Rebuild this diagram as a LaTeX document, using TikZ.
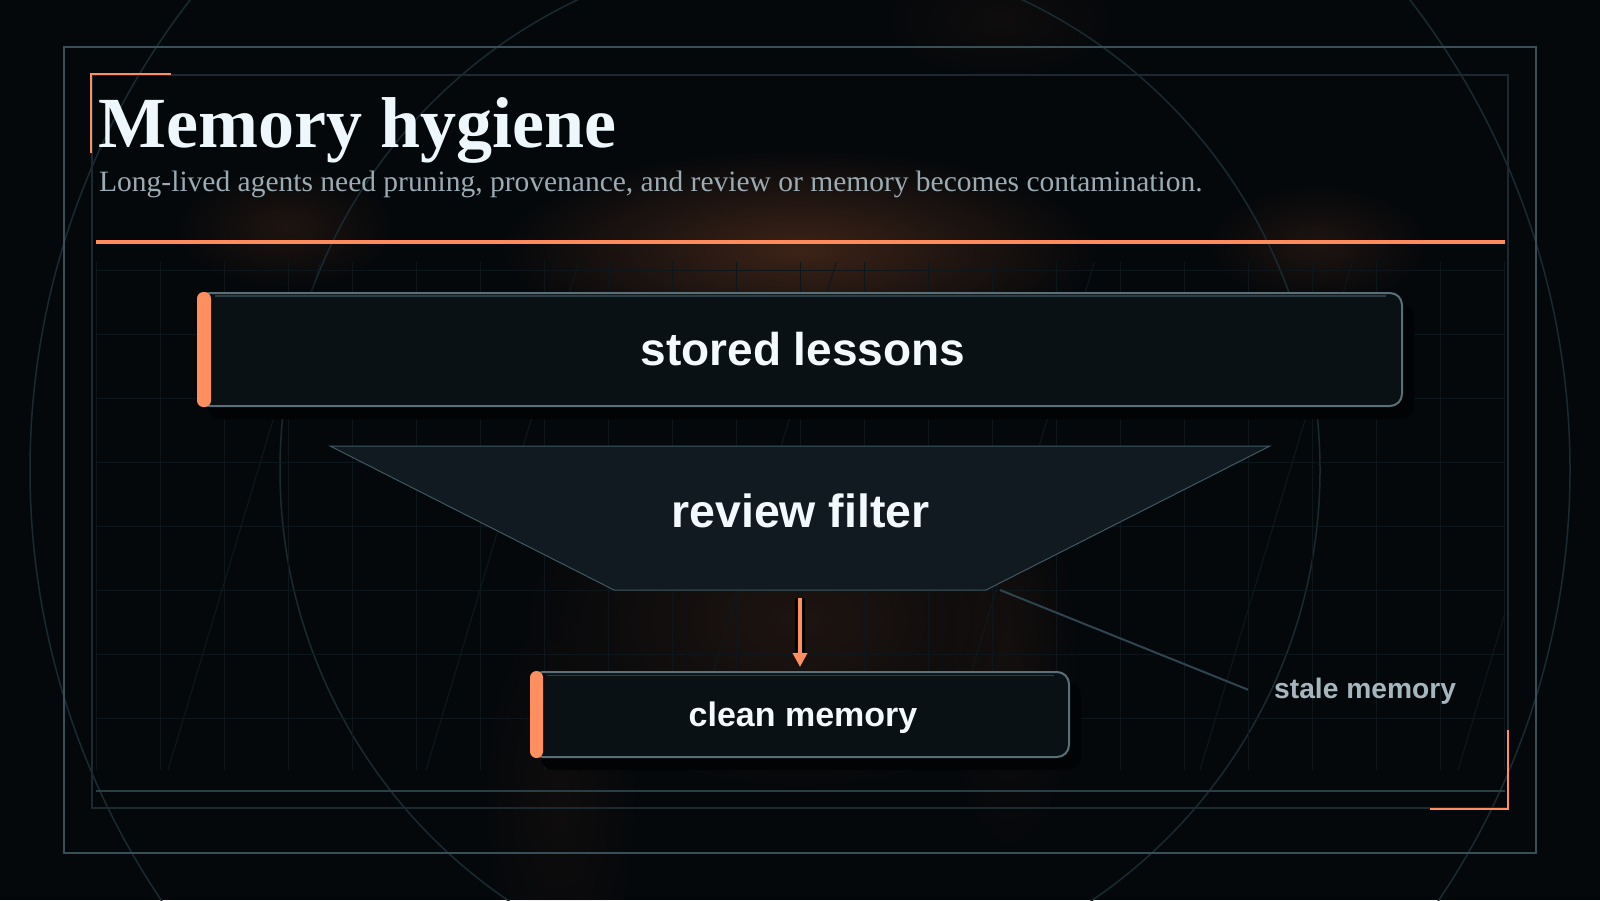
\documentclass[tikz,border=0pt]{standalone}
\usepackage{fontspec}
\setmainfont{Liberation Serif}
\setsansfont{Liberation Sans}
\usetikzlibrary{arrows.meta,fadings}
\tikzfading[name=glowfade, inner color=transparent!0, outer color=transparent!100]
\definecolor{bg}{HTML}{05080B}
\definecolor{accent}{HTML}{FF8F5F}
\definecolor{rulec}{HTML}{FF8A5C}
\definecolor{framec}{HTML}{3A4E57}
\definecolor{innerc}{HTML}{1C2930}
\definecolor{gridc}{HTML}{0C161B}
\definecolor{diagc}{HTML}{0E181D}
\definecolor{arcc}{HTML}{1A2A31}
\definecolor{boxfill}{HTML}{0A1114}
\definecolor{boxedge}{HTML}{5A6F78}
\definecolor{hlc}{HTML}{2B3D45}
\definecolor{funnelfill}{HTML}{111A20}
\definecolor{funneledge}{HTML}{3F5862}
\definecolor{shadowc}{HTML}{020304}
\definecolor{titlec}{HTML}{EEF8FC}
\definecolor{subc}{HTML}{9AABB3}
\definecolor{labelc}{HTML}{F2FAFD}
\definecolor{stalec}{HTML}{A6B6BE}
\definecolor{stalel}{HTML}{2E4550}
\definecolor{glowc}{HTML}{6B3A22}
\pgfdeclarelayer{backdrop}
\pgfsetlayers{backdrop,main}
\begin{document}
\begin{tikzpicture}[x=1pt,y=-1pt,
  boxnode/.style={draw=boxedge, line width=2pt, fill=boxfill, rounded corners=12pt, inner sep=0pt},
  hlline/.style={draw=hlc, line width=1.5pt},
  accentbar/.style={fill=accent, rounded corners=6.5pt},
  shadowbox/.style={fill=shadowc, rounded corners=12pt},
  boxlabel/.style={font=\sffamily\bfseries, text=labelc, inner sep=0pt, anchor=base},
  cornerline/.style={draw=accent, line width=2pt},
  glow/.style={fill=glowc, path fading=glowfade}]
\useasboundingbox (0,0) rectangle (1600,900);
\begin{pgfonlayer}{backdrop}
\fill[bg] (0,0) rectangle (1600,900);
% glows
\fill[glow, opacity=0.55] (800,250) ellipse [x radius=300, y radius=100];
\fill[glow, opacity=0.25] (1318,245) ellipse [x radius=110, y radius=60];
\fill[glow, opacity=0.25] (285,228) ellipse [x radius=110, y radius=60];
\fill[glow, opacity=0.25] (800,620) ellipse [x radius=280, y radius=170];
\fill[glow, opacity=0.10] (560,800) ellipse [x radius=80, y radius=200];
\fill[glow, opacity=0.10] (1010,660) ellipse [x radius=70, y radius=200];
\fill[glow, opacity=0.10] (1000,20) ellipse [x radius=120, y radius=60];
% arcs
\draw[arcc, line width=1.5pt] (800,470) circle [radius=520];
\draw[arcc, line width=1.5pt] (800,470) circle [radius=770];
% grid
\begin{scope}
\clip (96,262) rectangle (1505,770);
\foreach \k in {0,...,22} \draw[gridc, line width=1pt] (96+64*\k,262) -- (96+64*\k,770);
\foreach \k in {0,...,7} \draw[gridc, line width=1pt] (96,270.5+64*\k) -- (1505,270.5+64*\k);
\foreach \k in {0,...,5} \draw[diagc, line width=1pt] (168+258*\k,770) -- (320.4+258*\k,262);
\end{scope}
% frames
\draw[framec, line width=2pt] (64,47) rectangle (1536,853);
\draw[innerc, line width=2pt] (92,74.5) rectangle (1508,808);
\draw[hlc, line width=2pt] (96,791) -- (1505,791);
\end{pgfonlayer}
% corners
\draw[cornerline] (91,153) -- (91,74) -- (171,74);
\draw[cornerline] (1508,730) -- (1508,809) -- (1430,809);
% titles
\node[font=\fontsize{72}{80}\selectfont\bfseries, text=titlec, anchor=base west, inner sep=0pt] (title) at (98,147) {Memory hygiene};
\node[font=\fontsize{29.5}{34}\selectfont, text=subc, anchor=base west, inner sep=0pt] (subtitle) at (99,191) {Long-lived agents need pruning, provenance, and review or memory becomes contamination.};
\draw[rulec, line width=4.5pt] (96,242) -- (1505,242);
% stored lessons
\node[boxnode, minimum width=1204pt, minimum height=113pt] (stored) at (800,349.5) {};
\draw[hlline] ([xshift=18pt,yshift=-4pt]stored.north west) -- ([xshift=-17pt,yshift=-4pt]stored.north east);
\fill[accentbar] (stored.north west) rectangle ([xshift=14pt]stored.south west);
\node[boxlabel, font=\fontsize{46}{52}\selectfont\sffamily\bfseries] (storedtxt) at (803,365) {stored lessons};
% review filter
\coordinate (ftl) at (330,446);
\coordinate (ftr) at (1270,446);
\coordinate (fbr) at (986,590);
\coordinate (fbl) at (614,590);
\coordinate (fbot) at (800,590);
\draw[fill=funnelfill, draw=funneledge, line width=1pt] (ftl) -- (ftr) -- (fbr) -- (fbl) -- cycle;
\node[boxlabel, font=\fontsize{46.5}{52}\selectfont\sffamily\bfseries] (filter) at (800.5,527) {review filter};
% clean memory
\node[boxnode, minimum width=538pt, minimum height=85pt] (clean) at (800,714.5) {};
\draw[hlline] ([xshift=17pt,yshift=-4.5pt]clean.north west) -- ([xshift=-16pt,yshift=-4.5pt]clean.north east);
\fill[accentbar] (clean.north west) rectangle ([xshift=13pt]clean.south west);
\node[boxlabel, font=\fontsize{34}{40}\selectfont\sffamily\bfseries] (cleantxt) at (803,726) {clean memory};
% shadows
\begin{pgfonlayer}{backdrop}
\fill[shadowbox] ([shift={(11pt,-12pt)}]stored.north west) rectangle ([shift={(11pt,-12pt)}]stored.south east);
\fill[shadowbox] ([shift={(11pt,-12pt)}]clean.north west) rectangle ([shift={(11pt,-12pt)}]clean.south east);
\end{pgfonlayer}
% arrow
\draw[black, line width=10pt, shorten <=8pt, shorten >=19pt] (fbot) -- (clean.north);
\draw[accent, line width=4pt, shorten <=8pt, shorten >=4pt, -{Triangle[width=14pt,length=14pt]}] (fbot) -- (clean.north);
% stale memory
\node[font=\fontsize{28.2}{32}\selectfont\sffamily\bfseries, text=stalec, anchor=base west, inner sep=0pt] (stale) at (1274,698) {stale memory};
\draw[stalel, line width=2pt] ([xshift=14pt]fbr) -- ([xshift=-26pt,yshift=1pt]stale.west);
\end{tikzpicture}
\end{document}
